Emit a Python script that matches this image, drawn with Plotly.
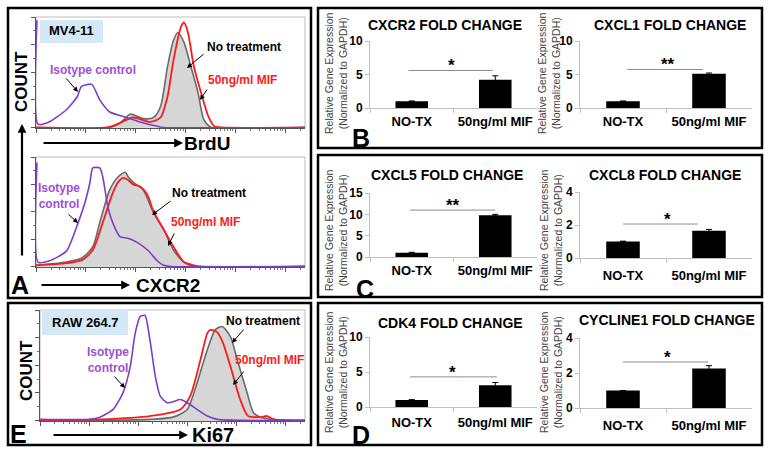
import plotly.graph_objects as go

W, H = 770, 454
FONT = "Arial, Liberation Sans, sans-serif"

# ---------------- Flow cytometry histograms (x: log10 fluorescence, y: % of max count)
brdu_iso_x = [0.02, 0.04, 0.26, 0.61, 0.83, 0.91, 1.12, 1.28, 1.48, 1.75, 2.09, 2.44, 2.56, 5.4]
brdu_iso_y = [97, 3, 5, 16, 28, 37, 39, 25, 14, 10, 5, 1, 0, 0]
brdu_ctrl_x = [0.0, 1.48, 1.69, 1.89, 2.15, 2.36, 2.50, 2.64, 2.76, 2.85, 2.97, 3.11, 3.25, 3.37, 3.52, 5.4]
brdu_ctrl_y = [0, 0, 4, 12, 8, 9, 19, 55, 79, 86, 77, 55, 32, 7, 0, 0]
brdu_mif_x = [0.0, 1.42, 1.63, 1.95, 2.30, 2.50, 2.64, 2.76, 2.91, 2.97, 3.05, 3.17, 3.31, 3.46, 3.58, 3.72, 5.4]
brdu_mif_y = [0, 0, 3, 9, 5, 9, 28, 61, 91, 95, 86, 55, 32, 10, 1, 0, 0]

cxcr2_iso_x = [0.02, 0.04, 0.26, 0.61, 0.83, 0.98, 1.08, 1.14, 1.28, 1.34, 1.44, 1.54, 1.69, 1.83, 2.03, 2.24, 2.44, 2.56, 2.70, 5.4]
cxcr2_iso_y = [95, 4, 5, 14, 38, 58, 76, 90, 90, 82, 55, 40, 27, 26, 22, 15, 5, 1, 0, 0]
cxcr2_ctrl_x = [0.0, 0.61, 0.93, 1.14, 1.28, 1.48, 1.65, 1.79, 1.85, 1.95, 2.15, 2.36, 2.56, 2.76, 2.97, 3.17, 5.4]
cxcr2_ctrl_y = [1, 4, 8, 18, 40, 70, 82, 86, 82, 77, 70, 49, 34, 15, 4, 0, 0]
cxcr2_mif_x = [0.0, 0.61, 0.93, 1.14, 1.34, 1.54, 1.65, 1.75, 1.85, 1.95, 2.09, 2.24, 2.36, 2.56, 2.76, 2.97, 3.17, 3.31, 5.4]
cxcr2_mif_y = [1, 3, 6, 15, 40, 67, 77, 81, 79, 75, 73, 65, 50, 34, 18, 4, 1, 0, 0]

ki67_iso_x = [0.0, 1.0, 1.22, 1.49, 1.69, 1.84, 1.94, 2.04, 2.14, 2.24, 2.35, 2.45, 2.59, 2.71, 2.86, 3.0, 3.2, 3.41, 3.61, 5.4]
ki67_iso_y = [1, 1, 3, 10, 25, 49, 79, 94, 95, 73, 40, 22, 16, 17, 19, 16, 10, 4, 1, 0]
ki67_ctrl_x = [0.0, 2.24, 2.71, 3.0, 3.2, 3.41, 3.57, 3.71, 3.88, 4.02, 4.22, 4.35, 4.49, 4.76, 5.4]
ki67_ctrl_y = [0, 1, 3, 10, 34, 64, 82, 85, 76, 55, 25, 7, 3, 1, 0]
ki67_mif_x = [0.0, 1.22, 2.24, 2.86, 3.06, 3.27, 3.41, 3.47, 3.61, 3.73, 3.88, 4.08, 4.24, 4.49, 4.63, 4.76, 5.4]
ki67_mif_y = [0, 1, 4, 10, 22, 55, 79, 82, 80, 70, 49, 19, 4, 3, 4, 1, 0]

# ---------------- qPCR bar charts
categories = ["NO-TX", "50ng/ml MIF"]
cxcr2_fc = [1.0, 4.2];  cxcr2_err = [0.05, 0.6]
cxcl1_fc = [1.0, 5.1];  cxcl1_err = [0.05, 0.12]
cxcl5_fc = [1.0, 9.8];  cxcl5_err = [0.1, 0.2]
cxcl8_fc = [1.0, 1.65]; cxcl8_err = [0.02, 0.08]
cdk4_fc = [1.0, 3.1];   cdk4_err = [0.05, 0.4]
ccne1_fc = [1.0, 2.25]; ccne1_err = [0.0, 0.17]

PURPLE_LINE = "#7b3fc4"
PURPLE_TEXT = "#9c4fd8"
RED = "#ff1a1a"


def X(p):
    return p / W


def Y(p):
    return 1 - p / H


fig = go.Figure()
layout = dict(width=W, height=H, margin=dict(l=0, r=0, t=0, b=0, autoexpand=False),
              paper_bgcolor="white", plot_bgcolor="white", showlegend=False,
              font=dict(family=FONT, color="black"))
shapes = []
annotations = []

# ---------- histogram subplots
hists = [
    (1, (36, 305, 17, 128), brdu_iso_x, brdu_iso_y, brdu_ctrl_x, brdu_ctrl_y, brdu_mif_x, brdu_mif_y),
    (2, (36, 305, 157, 267), cxcr2_iso_x, cxcr2_iso_y, cxcr2_ctrl_x, cxcr2_ctrl_y, cxcr2_mif_x, cxcr2_mif_y),
    (3, (40, 305, 310, 421), ki67_iso_x, ki67_iso_y, ki67_ctrl_x, ki67_ctrl_y, ki67_mif_x, ki67_mif_y),
]
for i, (x0, x1, y0, y1), ix, iy, cx, cy, mx, my in hists:
    xa = "x" if i == 1 else f"x{i}"
    ya = "y" if i == 1 else f"y{i}"
    fig.add_trace(go.Scatter(x=[10 ** v for v in cx], y=cy, mode="lines", fill="tozeroy",
                             fillcolor="#d6d6d6", line=dict(color="#6a6a6a", width=1.6, shape="spline", smoothing=0.7),
                             xaxis=xa, yaxis=ya, hoverinfo="skip"))
    fig.add_trace(go.Scatter(x=[10 ** v for v in mx], y=my, mode="lines",
                             line=dict(color=RED, width=1.8, shape="spline", smoothing=0.7),
                             xaxis=xa, yaxis=ya, hoverinfo="skip"))
    fig.add_trace(go.Scatter(x=[10 ** v for v in ix], y=iy, mode="lines",
                             line=dict(color=PURPLE_LINE, width=1.6, shape="spline", smoothing=0.6),
                             xaxis=xa, yaxis=ya, hoverinfo="skip"))
    key = "" if i == 1 else str(i)
    layout["xaxis" + key] = dict(domain=[X(x0), X(x1)], anchor=ya, type="log", range=[0, 5.4],
                                 showline=True, linecolor="#555", linewidth=1, ticks="outside", ticklen=4,
                                 tickcolor="#555", dtick=1, showticklabels=False, showgrid=False, zeroline=False,
                                 minor=dict(ticks="outside", ticklen=2, tickcolor="#777", dtick="D1", showgrid=False))
    layout["yaxis" + key] = dict(domain=[Y(y1), Y(y0)], anchor=xa, range=[-0.5, 100],
                                 showline=True, linecolor="#555", linewidth=1, ticks="outside", ticklen=4,
                                 tickcolor="#555", dtick=25, showticklabels=False, showgrid=False, zeroline=False,
                                 minor=dict(ticks="outside", ticklen=2, tickcolor="#777", dtick=12.5, showgrid=False))
    shapes.append(dict(type="rect", xref="paper", yref="paper", x0=X(x0), x1=X(x1), y0=Y(y1), y1=Y(y0),
                       line=dict(color="#bdbdbd", width=1), layer="below"))

# ---------- bar subplots
bars = [
    (4, "CXCR2 FOLD CHANGE", cxcr2_fc, cxcr2_err, (370, 537, 41, 108), 10, 5, 5.6, (-0.04, 0.97), "*", 0.48, (445, 25), 336, 1),
    (5, "CXCL1 FOLD CHANGE", cxcl1_fc, cxcl1_err, (580, 752, 41, 108), 10, 5, 5.75, (0.05, 0.93), "**", 0.52, (670, 25), 549, 1),
    (6, "CXCL5 FOLD CHANGE", cxcl5_fc, cxcl5_err, (370, 537, 193, 257), 15, 5, 11.0, (-0.02, 1.0), "**", 0.49, (447, 175), 336, 1),
    (7, "CXCL8 FOLD CHANGE", cxcl8_fc, cxcl8_err, (580, 752, 192, 258), 4, 2, 2.06, (0.0, 0.87), "*", 0.52, (665, 175), 551, 5),
    (8, "CDK4 FOLD CHANGE", cdk4_fc, cdk4_err, (370, 537, 337, 407), 10, 5, 4.3, (-0.02, 1.02), "*", 0.49, (450, 323), 336, 3),
    (9, "CYCLINE1 FOLD CHANGE", ccne1_fc, ccne1_err, (580, 752, 338, 408), 4, 2, 2.63, (0.0, 0.99), "*", 0.52, (667, 320), 551, 5),
]
ytitle_centers = {4: 73, 5: 73, 6: 230, 7: 230, 8: 372, 9: 372}
for i, title, vals, errs, (x0, x1, y0, y1), ymax, dt, sigy, (sx0, sx1), star, starx, (tx, ty), ytx, stand in bars:
    xa, ya = f"x{i}", f"y{i}"
    fig.add_trace(go.Bar(x=categories, y=vals, width=0.39, marker=dict(color="black", line=dict(width=0)),
                         error_y=dict(type="data", array=errs, color="black", thickness=1, width=3),
                         xaxis=xa, yaxis=ya, hoverinfo="skip"))
    layout[f"xaxis{i}"] = dict(domain=[X(x0), X(x1)], anchor=ya, type="category", range=[-0.5, 1.5],
                               showline=True, linecolor="#bfbfbf", linewidth=1, ticks="outside", ticklen=4,
                               tickcolor="#bfbfbf", tickson="boundaries", showgrid=False, zeroline=False,
                               ticklabelstandoff=stand,
                               tickfont=dict(family=FONT, size=13, color="black", weight="bold"))
    layout[f"yaxis{i}"] = dict(domain=[Y(y1), Y(y0)], anchor=xa, range=[0, ymax], dtick=dt,
                               showline=True, linecolor="#bfbfbf", linewidth=1, ticks="outside", ticklen=4,
                               tickcolor="#bfbfbf", showgrid=False, zeroline=False,
                               tickfont=dict(family=FONT, size=12, color="black", weight="bold"))
    shapes.append(dict(type="line", xref=xa, yref=ya, x0=sx0, x1=sx1, y0=sigy, y1=sigy,
                       line=dict(color="#8c8c8c", width=1)))
    annotations.append(dict(x=starx, y=sigy, xref=xa, yref=ya, text=star, showarrow=False,
                            xanchor="center", yanchor="bottom", yshift=-7,
                            font=dict(family=FONT, size=17, color="black", weight="bold")))
    annotations.append(dict(x=X(tx), y=Y(ty), xref="paper", yref="paper", text=title, showarrow=False,
                            xanchor="center", yanchor="middle",
                            font=dict(family=FONT, size=14, color="black", weight="bold")))
    annotations.append(dict(x=X(ytx), y=Y(ytitle_centers[i]), xref="paper", yref="paper",
                            text="Relative Gene Expression<br>(Normalized to GAPDH)", textangle=-90,
                            showarrow=False, xanchor="center", yanchor="middle",
                            font=dict(family=FONT, size=10.5, color="#444")))


def txt(x, y, text, size, color="black", bold=True, angle=0):
    annotations.append(dict(x=X(x), y=Y(y), xref="paper", yref="paper", text=text, showarrow=False,
                            textangle=angle, xanchor="center", yanchor="middle",
                            font=dict(family=FONT, size=size, color=color, weight="bold" if bold else "normal")))


def arrow(hx, hy, tx, ty, width=1.0, head=2, size=1.0):
    annotations.append(dict(x=X(hx), y=Y(hy), xref="paper", yref="paper", text="", showarrow=True,
                            ax=tx - hx, ay=ty - hy, arrowhead=head, arrowsize=size, arrowwidth=width,
                            arrowcolor="black"))


# outer boxes
for (bx0, by0, bx1, by1) in [(8, 8, 311, 298), (8, 303, 311, 445), (318, 8, 762, 148),
                             (318, 155, 762, 297), (318, 303, 762, 445)]:
    shapes.append(dict(type="rect", xref="paper", yref="paper", x0=X(bx0), x1=X(bx1), y0=Y(by1), y1=Y(by0),
                       line=dict(color="black", width=2.5)))

# cell line labels
shapes.append(dict(type="rect", xref="paper", yref="paper", x0=X(40), x1=X(103), y0=Y(43), y1=Y(20),
                   fillcolor="#d4e8f7", line=dict(width=0), layer="above"))
shapes.append(dict(type="rect", xref="paper", yref="paper", x0=X(42), x1=X(128), y0=Y(335), y1=Y(309),
                   fillcolor="#d4e8f7", line=dict(width=0), layer="above"))
txt(71, 31, "MV4-11", 13)
txt(85, 322, "RAW 264.7", 13)

# histogram annotations - BrdU
txt(93, 70, "Isotype control", 12, PURPLE_TEXT)
arrow(78, 92, 65, 77)
txt(244, 47, "No treatment", 12)
arrow(187, 68, 205, 53)
txt(242, 80, "50ng/ml MIF", 12, RED)
arrow(200, 100, 208, 88)
# CXCR2
txt(59, 196, "Isotype<br>control", 12, PURPLE_TEXT)
arrow(78, 223, 67, 213)
txt(209, 193, "No treatment", 12)
arrow(152, 215, 172, 200)
txt(206, 222, "50ng/ml MIF", 12, RED)
arrow(168, 246, 175, 232)
# Ki67
txt(108, 360, "Isotype<br>control", 12, PURPLE_TEXT)
arrow(125, 388, 113, 375)
txt(263, 321, "No treatment", 12)
arrow(232, 343, 245, 328)
txt(269, 360, "50ng/ml MIF", 12, RED)
arrow(233, 385, 245, 370)

# axis labels / big arrows
txt(22, 82, "COUNT", 17, angle=-90)
arrow(22, 124, 22, 257, width=2.2, head=2, size=0.8)
txt(26, 370, "COUNT", 17, angle=-90)
arrow(183, 143, 42, 143, width=2.2, head=2, size=0.8)
txt(207, 143, "BrdU", 19)
arrow(130, 285, 40, 285, width=2.2, head=2, size=0.8)
txt(168, 285, "CXCR2", 19)
arrow(188, 435, 52, 435, width=2.2, head=2, size=0.8)
txt(213, 435, "Ki67", 20)

# panel letters
txt(20, 285, "A", 25)
txt(18, 434, "E", 25)
txt(361, 138, "B", 25)
txt(365, 289, "C", 25)
txt(361, 435, "D", 25)

layout["shapes"] = shapes
layout["annotations"] = annotations
fig.update_layout(**layout)
fig.write_html("out.html", config={"displayModeBar": False},
               post_script="document.body.style.margin='0px';")
